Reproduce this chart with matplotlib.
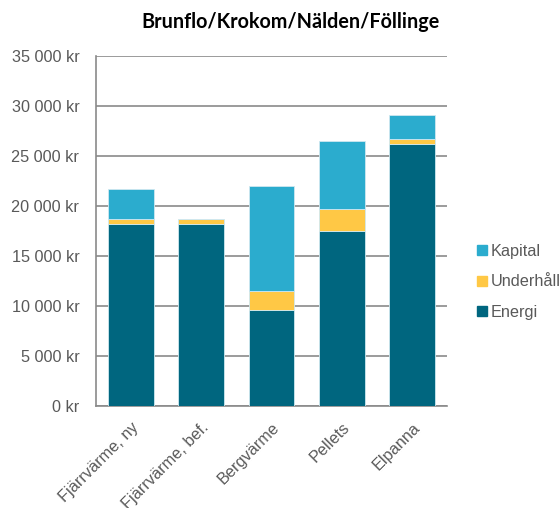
import numpy as np
import matplotlib.pyplot as plt
from matplotlib.patches import Patch

# kostnader per uppvärmningsalternativ (kr/år)
kategorier = ["Fjärrvärme, ny", "Fjärrvärme, bef.", "Bergvärme", "Pellets", "Elpanna"]
energi = [18270, 18270, 9630, 17570, 26270]
underhall = [430, 430, 1840, 2200, 430]
kapital = [3000, 0, 10560, 6770, 2470]

farg_energi = "#00667f"
farg_underhall = "#ffc845"
farg_kapital = "#2bacce"
gra = "#8a8a8a"
textfarg = "#595959"

plt.rcParams["font.family"] = ["Liberation Sans", "DejaVu Sans"]

fig = plt.figure(figsize=(5.6, 5.08), dpi=100)
ax = fig.add_axes([0.1714, 0.2008, 0.6268, 0.688])

x = np.arange(len(kategorier))
b = 0.65
kant = dict(edgecolor="#cfe8f0", linewidth=0.6, zorder=3)
ax.bar(x, energi, b, color=farg_energi, **kant)
ax.bar(x, underhall, b, bottom=energi, color=farg_underhall, **kant)
bas = np.array(energi) + np.array(underhall)
ax.bar(x, kapital, b, bottom=bas, color=farg_kapital, **kant)

ax.set_xlim(-0.5, len(kategorier) - 0.5)
ax.set_ylim(0, 35000)
ax.set_yticks(range(0, 35001, 5000))
ax.set_yticklabels([("%d kr" % v) if v < 1000 else ("%d %03d kr" % (v // 1000, v % 1000)) for v in range(0, 35001, 5000)])
ax.set_xticks(x)
ax.set_xticklabels(kategorier, rotation=45, ha="right", rotation_mode="anchor")

ax.tick_params(axis="both", length=0, colors=textfarg, labelsize=11.7)
ax.tick_params(axis="y", pad=12)
ax.tick_params(axis="x", pad=10)

ax.grid(axis="y", color=gra, linewidth=1.2, zorder=0)
ax.set_axisbelow(True)
for s in ["top", "right"]:
    ax.spines[s].set_visible(False)
ax.spines["left"].set_color(gra)
ax.spines["left"].set_linewidth(1.2)
ax.spines["bottom"].set_color(gra)
ax.spines["bottom"].set_linewidth(1.2)

fig.text(0.518, 0.957, "Brunflo/Krokom/Nälden/Föllinge", ha="center", va="center",
         fontsize=14.2, fontweight="bold", family="Lato", color="black")

handtag = [Patch(color=farg_kapital), Patch(color=farg_underhall), Patch(color=farg_energi)]
fig.legend(handtag, ["Kapital", "Underhåll", "Energi"], loc="center left",
           bbox_to_anchor=(0.826, 0.445), frameon=False, fontsize=11.7,
           handlelength=0.6, handleheight=0.6, handletextpad=0.25, labelspacing=0.95,
           labelcolor=textfarg)

fig.savefig("out.png", dpi=100)
